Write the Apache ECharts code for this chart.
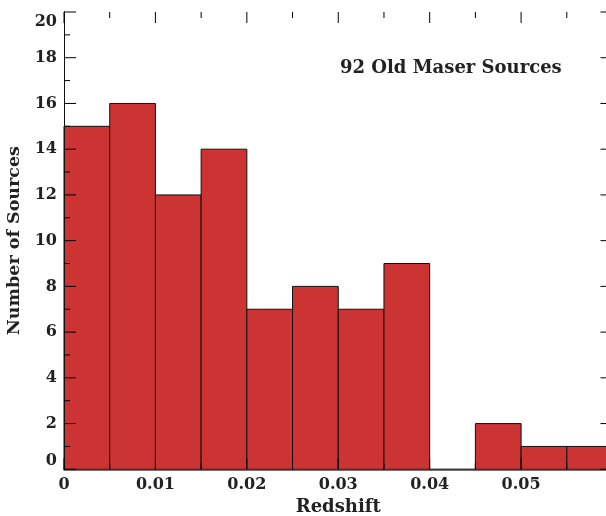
<!DOCTYPE html>
<html><head><meta charset="utf-8">
<script src="https://cdn.jsdelivr.net/npm/echarts@6/dist/echarts.min.js"></script>
<style>html,body{margin:0;padding:0;background:#fff}#c{width:606px;height:516px}</style>
</head><body><div id="c"></div>
<script>
const binEdges = [0, 0.005, 0.01, 0.015, 0.02, 0.025, 0.03, 0.035, 0.04, 0.045, 0.05, 0.055, 0.06];
const counts = [15, 16, 12, 14, 7, 8, 7, 9, 0, 2, 1, 1];
const xMajorTicks = [0, 0.01, 0.02, 0.03, 0.04, 0.05, 0.06];
const xMinorTicks = [0.005, 0.015, 0.025, 0.035, 0.045, 0.055];
const yMajorTicks = [0, 2, 4, 6, 8, 10, 12, 14, 16, 18, 20];
const yMinorTicks = [1, 3, 5, 7, 9, 11, 13, 15, 17, 19];
const annotation = '92 Old Maser Sources';
const xTitle = 'Redshift';
const yTitle = 'Number of Sources';

const FONT = 'DejaVu Serif';
const X_MIN = 0, X_MAX = 0.06, Y_MIN = 0, Y_MAX = 20;
const data = counts.map((c, i) => [binEdges[i], binEdges[i + 1], c]);

const chart = echarts.init(document.getElementById('c'), null, {renderer: 'canvas'});

function xAx(pos, extra) {
  return Object.assign({
    type: 'value', position: pos, min: X_MIN, max: X_MAX, interval: 0.01, z: 5,
    axisLine: {show: true, lineStyle: {color: '#111', width: 1}},
    splitLine: {show: false}, axisTick: {show: false}, axisLabel: {show: false}
  }, extra || {});
}
function yAx(pos, extra) {
  return Object.assign({
    type: 'value', position: pos, min: Y_MIN, max: Y_MAX, interval: 2, z: 5,
    axisLine: {show: true, lineStyle: {color: '#111', width: 1}},
    splitLine: {show: false}, axisTick: {show: false}, axisLabel: {show: false}
  }, extra || {});
}

function tickSeries(values, isX, len) {
  return {
    type: 'custom', xAxisIndex: 0, yAxisIndex: 0, z: 6, clip: false, silent: true,
    data: values.map(v => [v]),
    encode: isX ? {x: 0} : {y: 0},
    renderItem: function (params, api) {
      const v = api.value(0);
      const st = {stroke: '#000', lineWidth: 1};
      let a, b;
      if (isX) {
        a = api.coord([v, Y_MIN]); b = api.coord([v, Y_MAX]);
        return {type: 'group', children: [
          {type: 'line', shape: {x1: a[0], y1: a[1], x2: a[0], y2: a[1] - len}, style: st},
          {type: 'line', shape: {x1: b[0], y1: b[1], x2: b[0], y2: b[1] + len}, style: st}
        ]};
      } else {
        a = api.coord([X_MIN, v]); b = api.coord([X_MAX, v]);
        return {type: 'group', children: [
          {type: 'line', shape: {x1: a[0], y1: a[1], x2: a[0] + len, y2: a[1]}, style: st},
          {type: 'line', shape: {x1: b[0], y1: b[1], x2: b[0] - len, y2: b[1]}, style: st}
        ]};
      }
    }
  };
}

chart.setOption({
  animation: false,
  backgroundColor: '#fff',
  grid: {left: 64, top: 12, width: 548.5, height: 457.3, containLabel: false, outerBoundsMode: 'none'},
  xAxis: [
    xAx('bottom', {
      axisLabel: {
        show: true, margin: 8, showMaxLabel: false,
        fontFamily: FONT, fontWeight: 'bold', fontSize: 16, color: '#222',
        formatter: v => v === 0 ? '0' : v.toFixed(2)
      },
      name: xTitle, nameLocation: 'middle', nameGap: 27,
      nameTextStyle: {fontFamily: FONT, fontWeight: 'bold', fontSize: 18, color: '#222'}
    }),
    xAx('top', {axisLine: {show: true, lineStyle: {color: '#444', width: 1.5}}})
  ],
  yAxis: [
    yAx('left', {
      axisLabel: {
        show: true, margin: 7,
        fontFamily: FONT, fontWeight: 'bold', fontSize: 16, color: '#222',
        formatter: v => v === 0 ? '{lo|0}' : (v === 20 ? '{hi|20}' : String(v)),
        rich: {
          lo: {fontFamily: FONT, fontWeight: 'bold', fontSize: 16, color: '#222', padding: [0, 0, 16, 0]},
          hi: {fontFamily: FONT, fontWeight: 'bold', fontSize: 16, color: '#222', padding: [19, 0, 0, 0]}
        }
      },
      name: yTitle, nameLocation: 'middle', nameGap: 35, nameRotate: 90,
      nameTextStyle: {fontFamily: FONT, fontWeight: 'bold', fontSize: 17.5, color: '#222'}
    }),
    yAx('right')
  ],
  graphic: [{
    type: 'text', left: 340, top: 59, z: 10,
    style: {text: annotation, font: 'bold 18px "' + FONT + '"', fill: '#222'}
  }],
  series: [
    {
      type: 'custom', xAxisIndex: 0, yAxisIndex: 0, z: 2,
      data: data,
      encode: {x: [0, 1], y: 2},
      renderItem: function (params, api) {
        const p0 = api.coord([api.value(0), api.value(2)]);
        const p1 = api.coord([api.value(1), 0]);
        return {
          type: 'rect',
          shape: {x: p0[0], y: p0[1], width: p1[0] - p0[0], height: p1[1] - p0[1]},
          style: {fill: '#cc3333', stroke: '#111', lineWidth: 1}
        };
      }
    },
    tickSeries(xMajorTicks, true, 11),
    tickSeries(xMinorTicks, true, 6),
    tickSeries(yMajorTicks, false, 12),
    tickSeries(yMinorTicks, false, 6)
  ]
});
</script></body></html>
